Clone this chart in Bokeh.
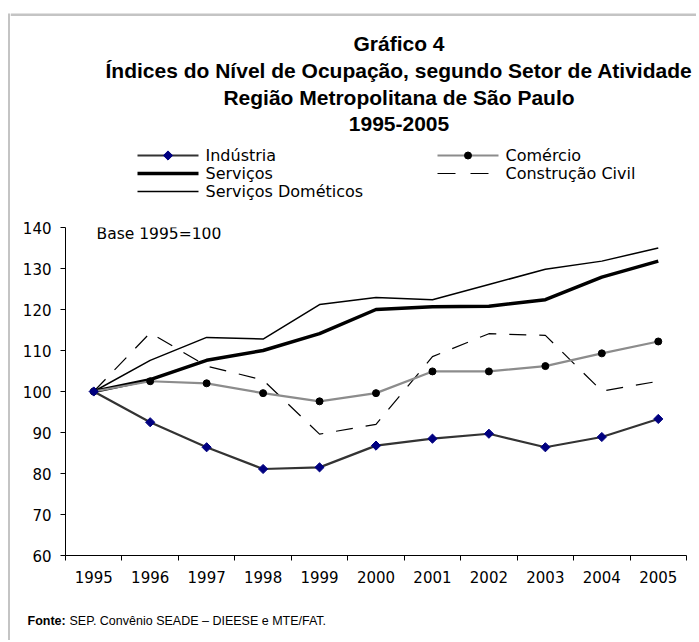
from bokeh.plotting import figure
from bokeh.models import Range1d, FixedTicker, Label
from bokeh.layouts import column, row
from bokeh.core.properties import value
from bokeh.embed import file_html
from bokeh.resources import INLINE

years = [1995, 1996, 1997, 1998, 1999, 2000, 2001, 2002, 2003, 2004, 2005]
industria = [100, 92.5, 86.4, 81.1, 81.5, 86.8, 88.5, 89.7, 86.4, 88.9, 93.3]
comercio = [100, 102.5, 102.0, 99.6, 97.6, 99.6, 104.9, 104.9, 106.2, 109.3, 112.2]
servicos = [100, 102.9, 107.6, 110.0, 114.1, 120.0, 120.7, 120.8, 122.4, 127.9, 131.8]
serv_domesticos = [100, 107.6, 113.2, 112.8, 121.2, 122.9, 122.4, 126.1, 129.8, 131.8, 135.0]
construcao = [100, 114.3, 106.2, 102.8, 89.6, 92.0, 108.5, 114.1, 113.7, 100.1, 102.5]
y_ticks = [60, 70, 80, 90, 100, 110, 120, 130, 140]

title_lines = ["Gráfico 4",
               "Índices do Nível de Ocupação, segundo Setor de Atividade",
               "Região Metropolitana de São Paulo",
               "1995-2005"]
series_names = ["Indústria", "Comércio", "Serviços", "Construção Civil", "Serviços Dométicos"]
base_note = "Base 1995=100"
source_head = "Fonte:"
source_text = "SEP. Convênio SEADE – DIEESE e MTE/FAT."

TITLE_FONT = "Liberation Sans"
TXT_FONT = "DejaVu Sans"
GREY = "#c4c4c4"

X0 = 10          # left edge of the chart figures on the page
W = 686
H_HEAD, H_MAIN, H_FOOT = 203, 389, 48
H_ALL = H_HEAD + H_MAIN + H_FOOT


def blank(width, height, x_left, y_top):
    f = figure(width=width, height=height, output_backend="svg", toolbar_location=None,
               x_range=Range1d(x_left, x_left + width), y_range=Range1d(y_top + height, y_top),
               min_border=0, outline_line_color=None, frame_align=False)
    f.axis.visible = False
    f.grid.visible = False
    return f


# ---------------- left grey border strip ----------------
strip = blank(X0, H_ALL, 0, 0)
strip.quad(left=[7.5], right=[10], top=[13], bottom=[H_ALL], fill_color=GREY, line_color=None)

# ---------------- header (titles + legend) ----------------
head = blank(W, H_HEAD, X0, 0)
head.quad(left=[X0], right=[X0 + W], top=[13], bottom=[15.6], fill_color=GREY, line_color=None)

head.text(x=[398.5] * 4, y=[43, 70, 97, 123], text=title_lines,
          text_font=value(TITLE_FONT), text_font_style="bold", text_font_size="21px",
          text_align="center", text_baseline="alphabetic", text_color="black")

lx0, lx1, rx0, rx1 = 137, 198, 437, 498
r1, r2, r3 = 155, 173, 191
head.line([lx0, lx1], [r1, r1], line_color="#333333", line_width=2.2)
head.scatter([(lx0 + lx1) / 2], [r1], marker="square", angle=0.785398, size=6.5,
             fill_color="#000080", line_color="#000080")
head.line([lx0, lx1], [r2, r2], line_color="black", line_width=3.5)
head.line([lx0, lx1], [r3, r3], line_color="black", line_width=1.5)
head.line([rx0, rx1], [r1, r1], line_color="#8c8c8c", line_width=2.2)
head.scatter([(rx0 + rx1) / 2], [r1], marker="circle", size=7,
             fill_color="black", line_color="black")
head.line([rx0, rx1 - 10], [r2, r2], line_color="black", line_width=1.2, line_dash="18 15")

head.text(x=[205, 505, 205, 505, 205], y=[r1, r1, r2, r2, r3], text=series_names,
          text_font=value(TXT_FONT), text_font_size="16px", text_align="left",
          text_baseline="middle", text_color="black")

# ---------------- main chart ----------------
p = figure(width=W, height=H_MAIN, output_backend="svg", toolbar_location=None,
           x_range=Range1d(1994.5, 2005.5), y_range=Range1d(60, 140),
           min_border_left=55, min_border_right=10, min_border_top=24, min_border_bottom=37,
           outline_line_color=None, frame_align=False)
p.grid.visible = False

p.yaxis.ticker = FixedTicker(ticks=y_ticks)
p.yaxis.major_tick_out = 5
p.yaxis.major_tick_in = 0
p.yaxis.minor_tick_line_color = None
p.yaxis.major_label_standoff = 9
p.yaxis.major_label_text_font = TXT_FONT
p.yaxis.major_label_text_font_size = "15px"
p.yaxis.major_label_text_color = "black"
p.yaxis.axis_line_color = "black"

bounds = [y - 0.5 for y in years] + [years[-1] + 0.5]
p.xaxis.ticker = FixedTicker(ticks=years, minor_ticks=bounds)
p.xaxis.major_tick_out = 0
p.xaxis.major_tick_in = 0
p.xaxis.major_tick_line_color = None
p.xaxis.minor_tick_out = 5
p.xaxis.minor_tick_in = 0
p.xaxis.minor_tick_line_color = "black"
p.xaxis.major_label_standoff = 10
p.xaxis.major_label_text_font = TXT_FONT
p.xaxis.major_label_text_font_size = "15px"
p.xaxis.major_label_text_color = "black"
p.xaxis.major_label_overrides = {y: str(y) for y in years}
p.xaxis.axis_line_color = "black"

p.line(years, serv_domesticos, line_color="black", line_width=1.5)
p.line(years, servicos, line_color="black", line_width=3.5)
p.line(years, construcao, line_color="black", line_width=1.2, line_dash="17 13")
p.line(years, comercio, line_color="#8c8c8c", line_width=2.2)
p.scatter(years, comercio, marker="circle", size=7, fill_color="black", line_color="black")
p.line(years, industria, line_color="#333333", line_width=2.2)
p.scatter(years, industria, marker="square", angle=0.785398, size=6.5,
          fill_color="#000080", line_color="#000080")

p.add_layout(Label(x=1995.05, y=138.5, text=base_note, text_font=TXT_FONT,
                   text_font_size="15.5px", text_baseline="middle", text_color="black"))

# ---------------- footer ----------------
foot = blank(W, H_FOOT, X0, H_HEAD + H_MAIN)
foot.text(x=[27], y=[620], text=[source_head], text_font=value(TITLE_FONT),
          text_font_style="bold", text_font_size="12.5px", text_align="left",
          text_baseline="middle", text_color="black")
foot.text(x=[69], y=[620], text=[source_text], text_font=value(TITLE_FONT),
          text_font_size="12.5px", text_align="left",
          text_baseline="middle", text_color="black")

layout = row(strip, column(head, p, foot))

open("out.html", "w").write(file_html(layout, INLINE))
